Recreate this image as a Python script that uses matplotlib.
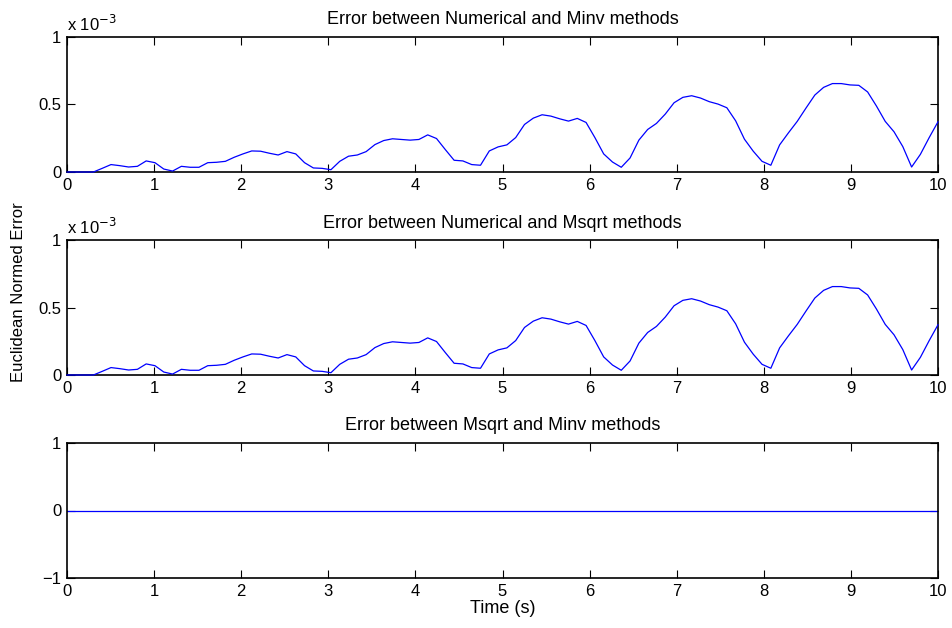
import numpy as np
import matplotlib
matplotlib.use("Agg")
import matplotlib.pyplot as plt
from matplotlib.ticker import FuncFormatter

plt.rcParams['font.family'] = ['Liberation Sans', 'DejaVu Sans']

# time samples (100 points from 0 to 10 s)
t_start, t_end, n_samples = 0.0, 10.0, 100

# error between Numerical and Minv methods (units of 1e-3)
err_num_minv = [
    0.000, 0.000, 0.000, 0.000, 0.027, 0.055, 0.047, 0.037, 0.042, 0.082,
    0.069, 0.022, 0.007, 0.042, 0.035, 0.035, 0.069, 0.072, 0.079, 0.109,
    0.134, 0.156, 0.154, 0.139, 0.126, 0.151, 0.134, 0.069, 0.030, 0.027,
    0.017, 0.079, 0.117, 0.126, 0.151, 0.203, 0.233, 0.246, 0.241, 0.236,
    0.241, 0.275, 0.248, 0.166, 0.087, 0.082, 0.055, 0.050, 0.156, 0.186,
    0.201, 0.255, 0.352, 0.399, 0.424, 0.414, 0.394, 0.377, 0.397, 0.367,
    0.255, 0.134, 0.074, 0.035, 0.104, 0.236, 0.315, 0.360, 0.429, 0.513,
    0.553, 0.565, 0.548, 0.521, 0.503, 0.476, 0.379, 0.243, 0.154, 0.079,
    0.050, 0.201, 0.290, 0.375, 0.474, 0.570, 0.627, 0.655, 0.655, 0.645,
    0.642, 0.593, 0.489, 0.375, 0.298, 0.188, 0.037, 0.131, 0.255, 0.372,
]
# error between Numerical and Msqrt methods (identical, units of 1e-3)
err_num_msqrt = list(err_num_minv)
# error between Msqrt and Minv methods
err_msqrt_minv = [0.0] * n_samples

titles = [
    "Error between Numerical and Minv methods",
    "Error between Numerical and Msqrt methods",
    "Error between Msqrt and Minv methods",
]
x_ticks = list(range(0, 11))
scale = 1e-3

t = np.linspace(t_start, t_end, n_samples)

W, H = 952, 628
fig = plt.figure(figsize=(W / 100, H / 100), dpi=100)
fs = 12
fs_title = 13

left = 67 / W
width = (938 - 67) / W
boxes = [(37, 172), (240, 375), (443, 578)]
axes = []
for top, bot in boxes:
    ax = fig.add_axes([left, 1 - bot / H, width, (bot - top) / H])
    axes.append(ax)

def style(ax):
    ax.tick_params(direction='in', top=True, right=True, length=5.5,
                   width=0.8, labelsize=fs, pad=4)
    for s in ax.spines.values():
        s.set_linewidth(1.2)
    ax.set_xlim(t_start, t_end)
    ax.set_xticks(x_ticks)
    ax.set_xticklabels([str(v) for v in x_ticks])

fmt = FuncFormatter(lambda v, p: ('%g' % round(v / scale, 6)))
for i, (ax, data) in enumerate(zip(axes[:2], [err_num_minv, err_num_msqrt])):
    ax.plot(t, np.array(data) * scale, color=(0, 0, 1), lw=0.9,
            clip_on=False, zorder=5)
    style(ax)
    ax.set_ylim(0, 1 * scale)
    ax.set_yticks([0, 0.5 * scale, 1 * scale])
    ax.yaxis.set_major_formatter(fmt)
    ax.set_title(titles[i], fontsize=fs_title, pad=9)
    ax.text(0.0, 1.02, r"x 10$^{-3}$", transform=ax.transAxes, fontsize=fs,
            ha='left', va='bottom')

ax = axes[2]
ax.plot(t, err_msqrt_minv, color=(0, 0, 1), lw=0.9)
style(ax)
ax.set_ylim(-1, 1)
ax.set_yticks([-1, 0, 1])
ax.set_yticklabels(["\u22121", "0", "1"])
ax.set_title(titles[2], fontsize=fs_title, pad=9)
ax.set_xlabel("Time (s)", fontsize=fs_title, labelpad=1)

axes[1].set_ylabel("Euclidean Normed Error", fontsize=fs)
axes[1].yaxis.set_label_coords(-(67 - 26) / (938 - 67), (375 - 292) / 135)

fig.savefig("out.png", dpi=100)
